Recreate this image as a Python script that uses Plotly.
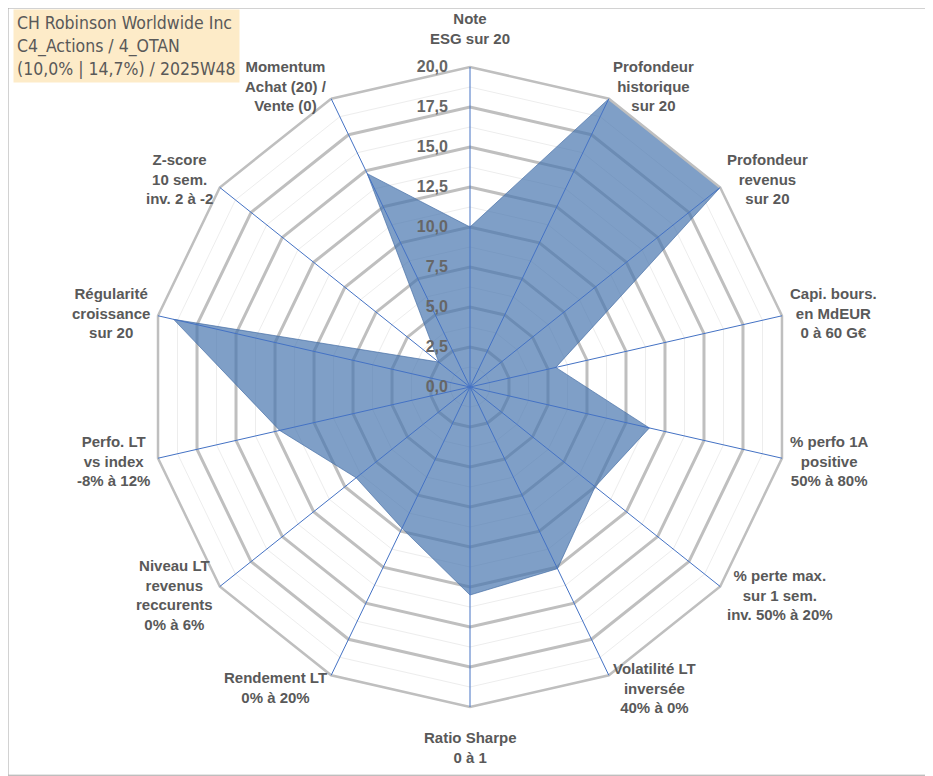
import math
import plotly.graph_objects as go

# axes of the radar (clockwise from the top)
categories = [
    "Note<br>ESG sur 20",
    "Profondeur<br>historique<br>sur 20",
    "Profondeur<br>revenus<br>sur 20",
    "Capi. bours.<br>en MdEUR<br>0 à 60 G€",
    "% perfo 1A<br>positive<br>50% à 80%",
    "% perte max.<br>sur 1 sem.<br>inv. 50% à 20%",
    "Volatilité LT<br>inversée<br>40% à 0%",
    "Ratio Sharpe<br>0 à 1",
    "Rendement LT<br>0% à 20%",
    "Niveau LT<br>revenus<br>reccurents<br>0% à 6%",
    "Perfo. LT<br>vs index<br>-8% à 12%",
    "Régularité<br>croissance<br>sur 20",
    "Z-score<br>10 sem.<br>inv. 2 à -2",
    "Momentum<br>Achat (20) /<br>Vente (0)",
]
scores = [10.0, 20.0, 20.0, 5.5, 11.5, 10.0, 12.6, 13.0, 9.8, 9.1, 12.2, 19.0, 2.5, 14.8]

major_ticks = [0, 2.5, 5, 7.5, 10, 12.5, 15, 17.5, 20]
major_labels = ["0,0", "2,5", "5,0", "7,5", "10,0", "12,5", "15,0", "17,5", "20,0"]
minor_ticks = [1.25, 3.75, 6.25, 8.75, 11.25, 13.75, 16.25, 18.75]

title_lines = ["CH Robinson Worldwide Inc", "C4_Actions / 4_OTAN", "(10,0% | 14,7%) / 2025W48"]

# the page body adds an 8px margin, so the figure is 8px smaller than the window
W, H = 925, 768
cx, cy, R = 462, 379, 320          # centre / radius of the radar, in figure pixels
grey = "#595959"
dom = dict(x=[(cx - R) / W, (cx + R) / W], y=[(H - cy - R) / H, (H - cy + R) / H])

fig = go.Figure()

# minor grid only (bottom layer)
fig.add_trace(go.Scatterpolar(r=[0] * len(categories), theta=categories, mode="none",
                              showlegend=False, hoverinfo="skip", subplot="polar"))
# data + major grid
fig.add_trace(go.Scatterpolar(
    r=scores + scores[:1], theta=categories + categories[:1],
    mode="lines", fill="toself",
    fillcolor="rgba(72,118,175,0.7)",
    line=dict(color="rgba(70,110,165,0.85)", width=0.8),
    showlegend=False, subplot="polar2",
))
# spokes and radial labels on top
fig.add_trace(go.Scatterpolar(r=[0] * len(categories), theta=categories, mode="none",
                              showlegend=False, hoverinfo="skip", subplot="polar3"))

common_ang = dict(type="category", categoryarray=categories, direction="clockwise",
                  rotation=90)

fig.update_layout(
    width=W, height=H,
    margin=dict(l=0, r=0, t=0, b=0),
    paper_bgcolor="white",
    font=dict(family="Liberation Sans", color=grey),
    polar=dict(
        domain=dom, gridshape="linear", bgcolor="white",
        radialaxis=dict(range=[0, 20], tickvals=minor_ticks, showticklabels=False,
                        gridcolor="#ededed", gridwidth=1, showline=False, ticks=""),
        angularaxis=dict(**common_ang, showgrid=False, showline=False,
                         showticklabels=False, ticks=""),
    ),
    polar2=dict(
        domain=dom, gridshape="linear", bgcolor="rgba(0,0,0,0)",
        radialaxis=dict(range=[0, 20], tickvals=major_ticks, showticklabels=False,
                        gridcolor="#bfbfbf", gridwidth=2.5, showline=False, ticks=""),
        angularaxis=dict(**common_ang, showgrid=False, showline=True,
                         linecolor="#bfbfbf", linewidth=2.5,
                         showticklabels=False, ticks=""),
    ),
    polar3=dict(
        domain=dom, gridshape="linear", bgcolor="rgba(0,0,0,0)",
        radialaxis=dict(range=[0, 20], tickvals=major_ticks, ticktext=major_labels,
                        showgrid=False, showline=False, angle=90,
                        ticks="outside", ticklen=16, tickcolor="rgba(0,0,0,0)",
                        side="counterclockwise", tickangle=90,
                        tickfont=dict(family="Liberation Sans", size=16, color="#666666",
                                      weight="bold")),
        angularaxis=dict(**common_ang, showgrid=True, gridcolor="#4472c4", gridwidth=1.3,
                         showline=False, showticklabels=False, ticks=""),
    ),
)

# category labels, centred text placed just outside each spoke end
n = len(categories)
for i, lab in enumerate(categories):
    a = 2 * math.pi * i / n
    s, c = math.sin(a), math.cos(a)
    if abs(s) < 0.1:
        gap = 18 if c > 0 else 20
        px, py = cx, cy - (R + gap) * c
        xa, ya = "center", ("bottom" if c > 0 else "top")
    else:
        px, py = cx + (R + 6) * s, cy - (R + 14) * c
        xa, ya = ("left" if s > 0 else "right"), "middle"
    fig.add_annotation(
        xref="paper", yref="paper", x=px / W, y=1 - py / H, xanchor=xa, yanchor=ya,
        text=lab, align="center", showarrow=False,
        font=dict(family="Liberation Sans", size=15, color=grey, weight="bold"),
    )

fig.add_annotation(
    xref="paper", yref="paper", x=5 / W, y=1 - 1 / H, xanchor="left", yanchor="top",
    text="<br>".join(title_lines), align="left", showarrow=False,
    font=dict(family="Liberation Sans Narrow, DejaVu Sans Condensed", size=17.5, color=grey),
    bgcolor="#fdebc8", borderpad=3,
)
fig.add_shape(type="rect", xref="paper", yref="paper", x0=0, y0=0.001, x1=0.999, y1=1,
              line=dict(color="#a6a6a6", width=1))

fig.write_html("out.html")
